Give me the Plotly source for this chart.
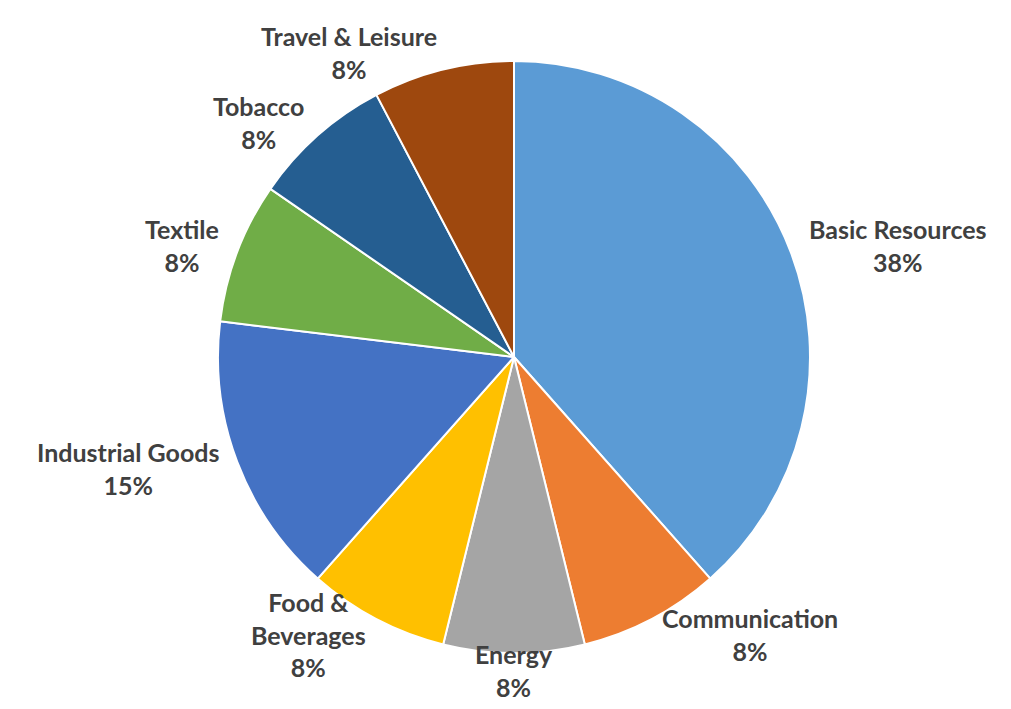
import math
import plotly.graph_objects as go

categories = ["Basic Resources", "Communication", "Energy", "Food & Beverages",
              "Industrial Goods", "Textile", "Tobacco", "Travel & Leisure"]
display_names = ["Basic Resources", "Communication", "Energy", "Food &<br>Beverages",
                 "Industrial Goods", "Textile", "Tobacco", "Travel & Leisure"]
values = [5, 1, 1, 1, 2, 1, 1, 1]
colors = ["#5B9BD5", "#ED7D31", "#A5A5A5", "#FFC000",
          "#4472C4", "#70AD47", "#255E91", "#9E480E"]

W, H = 1011, 709
cx, cy, R = 506, 349, 296          # pie centre / radius in figure pixels (layout)
label_dist = 1.06                   # label distance as fraction of radius

fig = go.Figure(go.Pie(
    labels=categories,
    values=values,
    textinfo="none",
    sort=False,
    direction="clockwise",
    rotation=0,
    marker=dict(colors=colors, line=dict(color="white", width=2)),
    domain=dict(x=[(cx - R) / W, (cx + R) / W], y=[1 - (cy + R) / H, 1 - (cy - R) / H]),
    showlegend=False,
    hoverinfo="label+percent",
))

total = sum(values)
cum = 0
for name, v in zip(display_names, values):
    mid = (cum + v / 2) / total * 2 * math.pi
    cum += v
    s, c = math.sin(mid), math.cos(mid)
    px = cx + label_dist * R * s
    py = cy - label_dist * R * c
    xa = "left" if s > 0.2 else ("right" if s < -0.2 else "center")
    pct = round(100 * v / total)
    fig.add_annotation(
        x=px / W, y=1 - py / H, xref="paper", yref="paper",
        text=f"<b>{name}<br>{pct}%</b>", showarrow=False,
        xanchor=xa, yanchor="middle", align="center",
        font=dict(family="Lato", size=25, color="#404040"),
    )

fig.update_layout(
    width=W, height=H,
    margin=dict(l=0, r=0, t=0, b=0),
    paper_bgcolor="white",
)
fig.write_html("out.html")
